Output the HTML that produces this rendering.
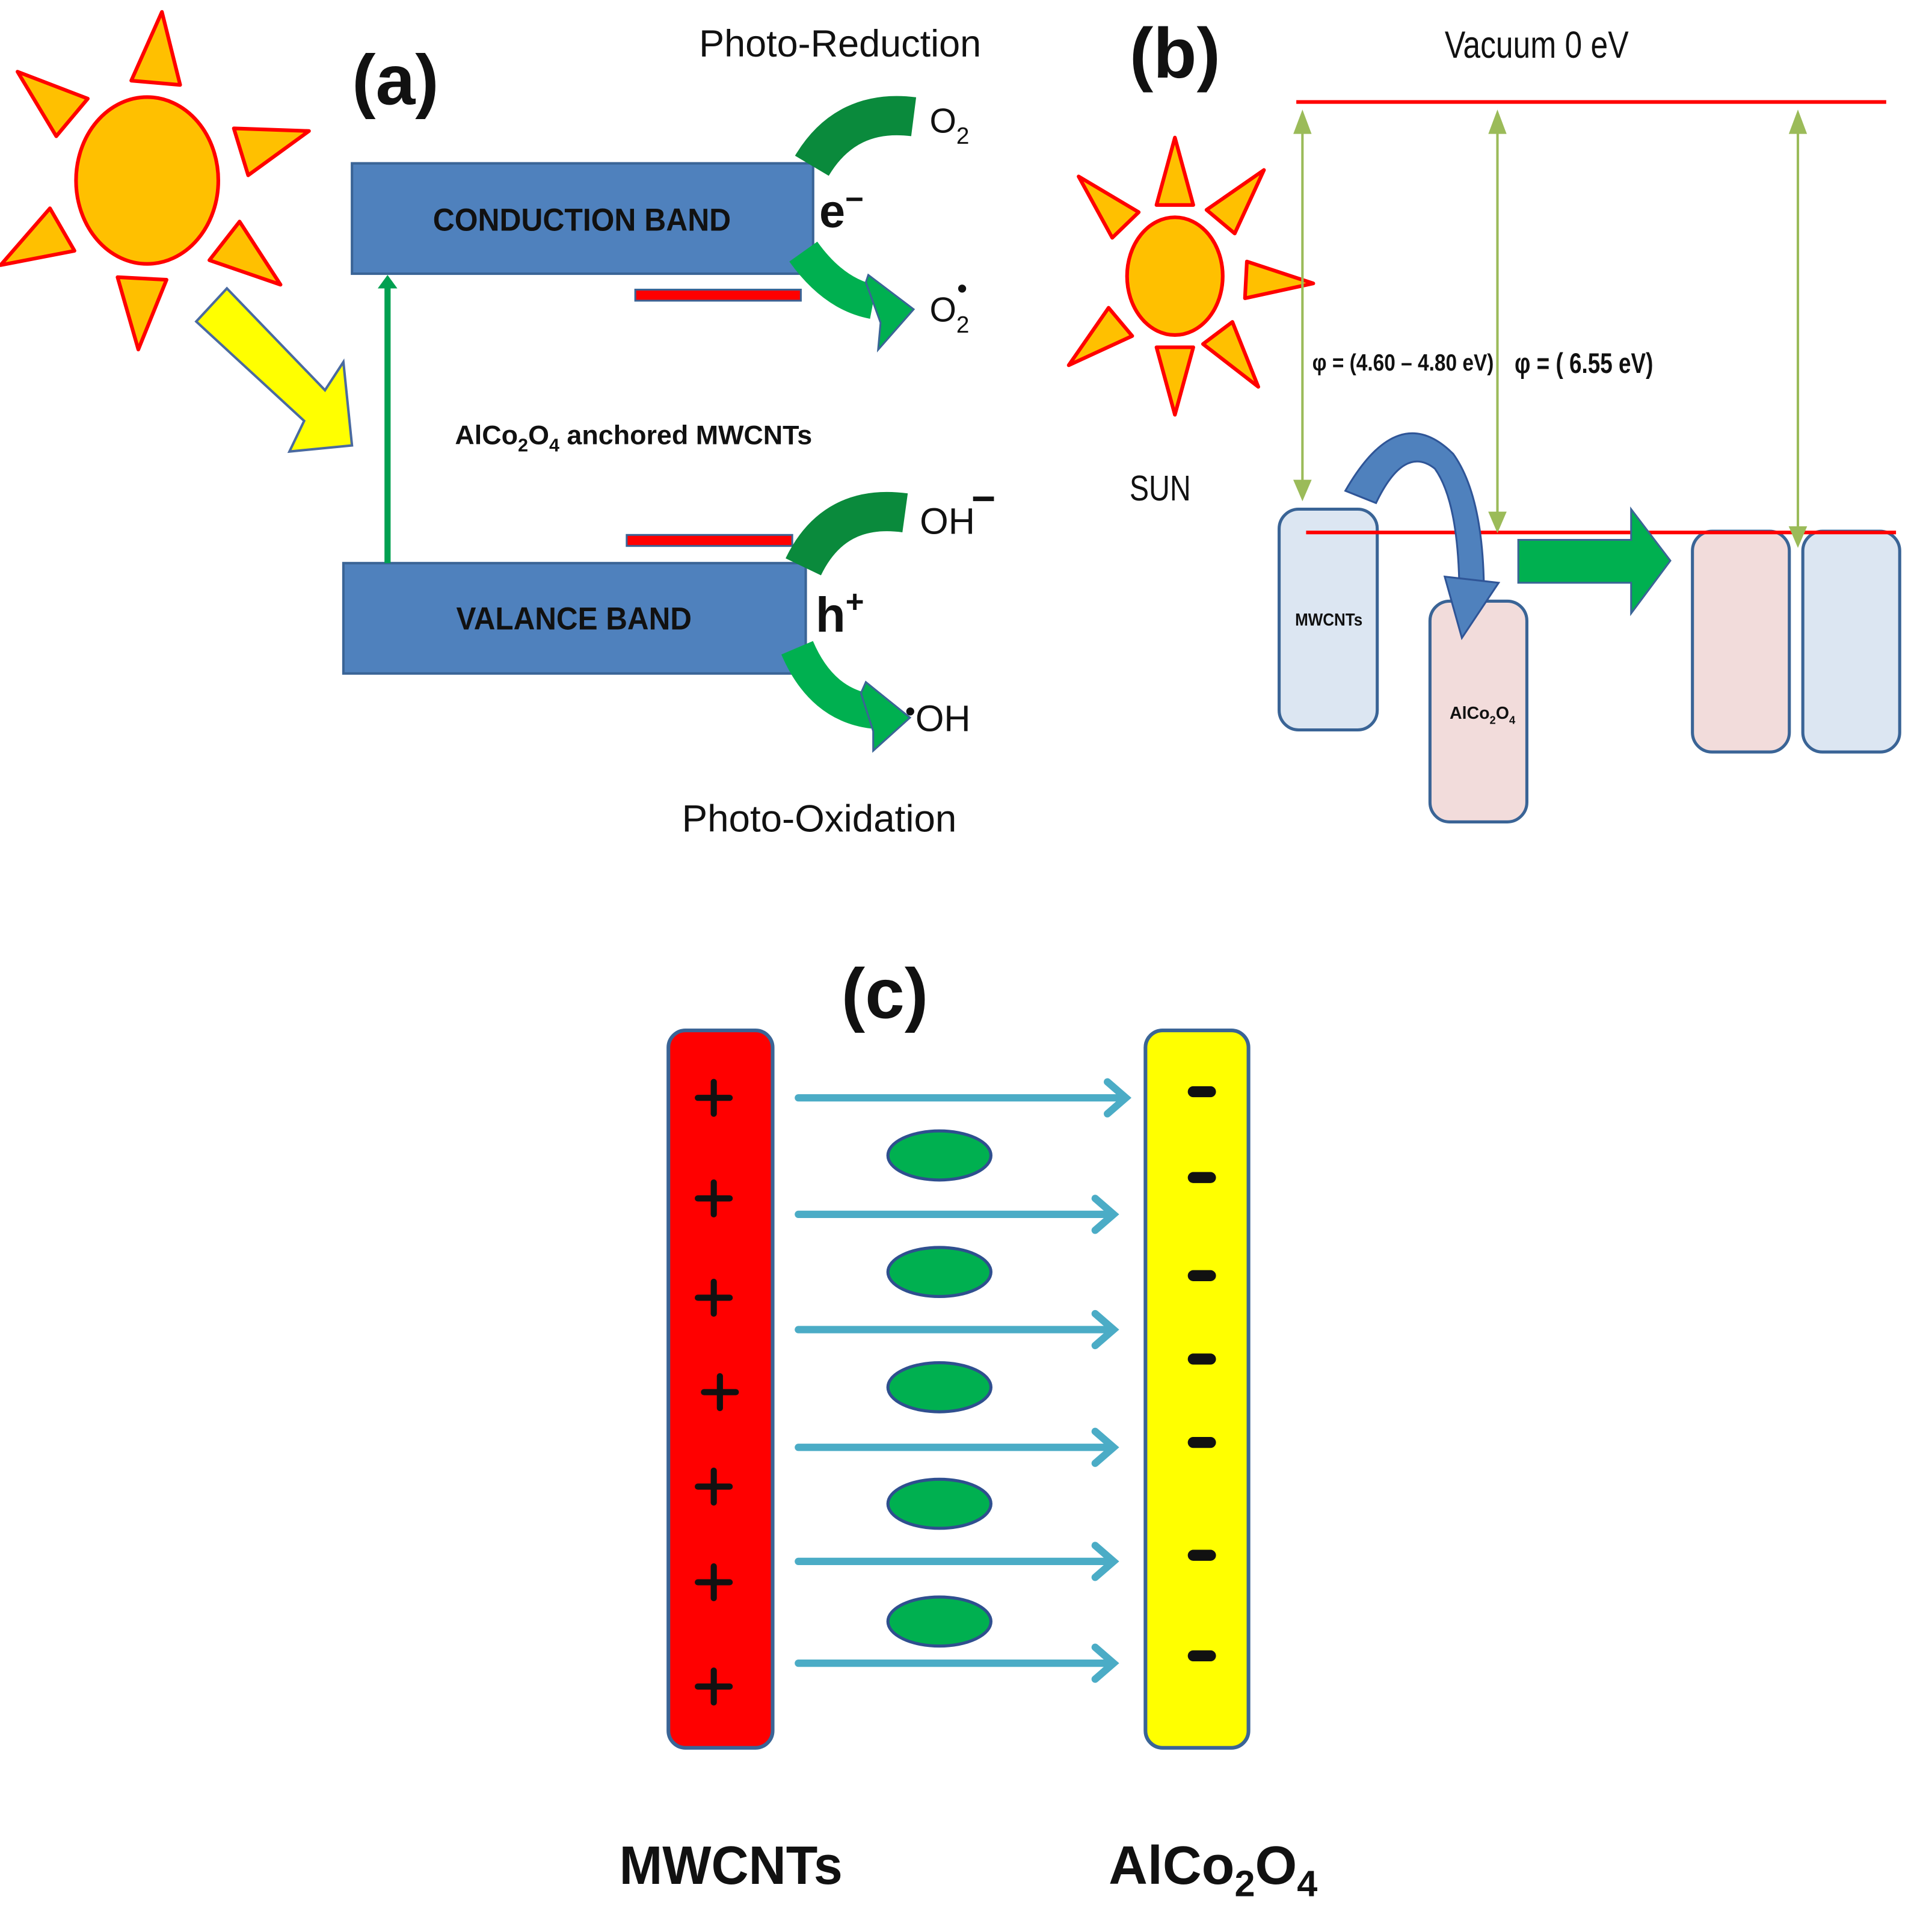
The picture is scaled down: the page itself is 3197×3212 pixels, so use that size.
<!DOCTYPE html>
<html><head><meta charset="utf-8"><style>html,body{margin:0;padding:0;background:#fff}svg{display:block}</style></head>
<body>
<svg width="3197" height="3212" viewBox="0 0 1568 1575" xmlns="http://www.w3.org/2000/svg" font-family="Liberation Sans, sans-serif">
<defs>
<g id="ray"><polygon points="-20,-80 20,-80 0,-138" fill="#ffc000" stroke="#ff0000" stroke-width="3" stroke-linejoin="round"/></g>
<g id="rayb"><polygon points="-15,-58 15,-58 0,-113" fill="#ffc000" stroke="#ff0000" stroke-width="3" stroke-linejoin="round"/></g>
</defs>
<rect width="1568" height="1575" fill="#fff"/>

<!-- Panel a sun -->
<g transform="translate(120,147)">
<use href="#ray" transform="rotate(5)"/><use href="#ray" transform="rotate(73)"/><use href="#ray" transform="rotate(128)"/>
<use href="#ray" transform="rotate(183)"/><use href="#ray" transform="rotate(240)"/><use href="#ray" transform="rotate(310)"/>
<ellipse cx="0" cy="0" rx="58" ry="68" fill="#ffc000" stroke="#ff0000" stroke-width="3"/>
</g>
<!-- yellow arrow -->
<polygon points="160,262 185,235 265,318 280,295 287,363 236,368 248,343" fill="#ffff00" stroke="#4a6aa0" stroke-width="2"/>

<text x="287" y="85" font-size="58" font-weight="bold" fill="#111">(a)</text>
<text x="570" y="46" font-size="31" fill="#111" textLength="230" lengthAdjust="spacingAndGlyphs">Photo-Reduction</text>

<rect x="287" y="133" width="376" height="90" fill="#4f81bd" stroke="#3a6496" stroke-width="2"/>
<text x="353" y="188" font-size="26" font-weight="bold" fill="#111" textLength="243" lengthAdjust="spacingAndGlyphs">CONDUCTION BAND</text>
<rect x="280" y="459" width="377" height="90" fill="#4f81bd" stroke="#3a6496" stroke-width="2"/>
<text x="372" y="513" font-size="26" font-weight="bold" fill="#111" textLength="192" lengthAdjust="spacingAndGlyphs">VALANCE BAND</text>

<line x1="316" y1="459" x2="316" y2="232" stroke="#00a050" stroke-width="5"/>
<polygon points="308,235 324,235 316,224" fill="#00a050"/>

<text x="371" y="362" font-size="22" font-weight="bold" fill="#111">AlCo<tspan font-size="15" dy="6">2</tspan><tspan dy="-6">O</tspan><tspan font-size="15" dy="6">4</tspan><tspan dy="-6"> anchored MWCNTs</tspan></text>

<!-- CB arrows -->
<path d="M662,135 Q690,88 745,95" fill="none" stroke="#0a8a3c" stroke-width="32"/>
<text x="668" y="185" font-size="38" font-weight="bold" fill="#111">e<tspan font-size="26" dy="-14">−</tspan></text>
<path d="M655,205 Q680,240 712,246" fill="none" stroke="#00b050" stroke-width="28"/>
<polygon points="708,224 745,252 716,285 718,263 706,230" fill="#00b050" stroke="#3a6496" stroke-width="1.5"/>
<text x="758" y="262" font-size="28" fill="#111">O<tspan font-size="19" dy="9">2</tspan><tspan font-size="24" dy="-28" dx="-10">•</tspan></text>
<text x="758" y="108" font-size="28" fill="#111">O<tspan font-size="19" dy="9">2</tspan></text>
<rect x="518" y="236" width="135" height="9" fill="#ff0000" stroke="#3a6496" stroke-width="1.5"/>
<rect x="511" y="436" width="135" height="9" fill="#ff0000" stroke="#3a6496" stroke-width="1.5"/>

<!-- VB arrows -->
<path d="M655,462 Q680,410 738,418" fill="none" stroke="#0a8a3c" stroke-width="32"/>
<text x="750" y="435" font-size="30" fill="#111">OH</text>
<text x="792" y="418" font-size="34" font-weight="bold" fill="#111">−</text>
<text x="665" y="515" font-size="40" font-weight="bold" fill="#111">h<tspan font-size="26" dy="-16">+</tspan></text>
<path d="M650,528 Q670,575 712,580" fill="none" stroke="#00b050" stroke-width="28"/>
<polygon points="706,556 742,585 712,612 712,596 702,565" fill="#00b050" stroke="#3a6496" stroke-width="1.5"/>
<text x="738" y="596" font-size="30" fill="#111"><tspan font-size="24" dy="-8">•</tspan><tspan dy="8">OH</tspan></text>
<text x="556" y="678" font-size="31" fill="#111" textLength="224" lengthAdjust="spacingAndGlyphs">Photo-Oxidation</text>

<!-- Panel b -->
<text x="921" y="63" font-size="58" font-weight="bold" fill="#111">(b)</text>
<text x="1178" y="47" font-size="31" fill="#111" textLength="150" lengthAdjust="spacingAndGlyphs">Vacuum 0 eV</text>
<line x1="1057" y1="83" x2="1538" y2="83" stroke="#ff0000" stroke-width="3"/>

<g transform="translate(958,225)">
<use href="#rayb" transform="rotate(0)"/><use href="#rayb" transform="rotate(40)"/><use href="#rayb" transform="rotate(93)"/><use href="#rayb" transform="rotate(143)"/>
<use href="#rayb" transform="rotate(180)"/><use href="#rayb" transform="rotate(230)"/><use href="#rayb" transform="rotate(316)"/>
<ellipse cx="0" cy="0" rx="39" ry="48" fill="#ffc000" stroke="#ff0000" stroke-width="3"/>
</g>
<text x="921" y="408" font-size="29" fill="#111" textLength="50" lengthAdjust="spacingAndGlyphs">SUN</text>

<rect x="1043" y="415" width="80" height="180" rx="16" fill="#dce6f2" stroke="#3a6496" stroke-width="2.5"/>
<text x="1056" y="510" font-size="14" font-weight="bold" fill="#111" textLength="55" lengthAdjust="spacingAndGlyphs">MWCNTs</text>
<rect x="1166" y="490" width="79" height="180" rx="16" fill="#f2dcdb" stroke="#3a6496" stroke-width="2.5"/>
<text x="1182" y="586" font-size="14" font-weight="bold" fill="#111">AlCo<tspan font-size="9" dy="4">2</tspan><tspan dy="-4">O</tspan><tspan font-size="9" dy="4">4</tspan></text>
<rect x="1380" y="433" width="79" height="180" rx="16" fill="#f2dcdb" stroke="#3a6496" stroke-width="2.5"/>
<rect x="1470" y="433" width="79" height="180" rx="16" fill="#dce6f2" stroke="#3a6496" stroke-width="2.5"/>
<line x1="1065" y1="434" x2="1546" y2="434" stroke="#ff0000" stroke-width="3"/>

<g stroke="#9bbb59" stroke-width="2" fill="#9bbb59">
<line x1="1062" y1="95" x2="1062" y2="402"/>
<polygon points="1056,108 1068,108 1062,92"/><polygon points="1056,392 1068,392 1062,406"/>
<line x1="1221" y1="95" x2="1221" y2="428"/>
<polygon points="1215,108 1227,108 1221,92"/><polygon points="1215,418 1227,418 1221,432"/>
<line x1="1466" y1="95" x2="1466" y2="440"/>
<polygon points="1460,108 1472,108 1466,92"/><polygon points="1460,430 1472,430 1466,444"/>
</g>
<text x="1070" y="302" font-size="19" font-weight="bold" fill="#111" textLength="148" lengthAdjust="spacingAndGlyphs">φ = (4.60 – 4.80 eV)</text>
<text x="1235" y="304" font-size="23" font-weight="bold" fill="#111" textLength="113" lengthAdjust="spacingAndGlyphs">φ = ( 6.55 eV)</text>

<path d="M1097,400 Q1140,325 1185,370 Q1210,405 1210,485 L1190,488 Q1190,410 1170,382 Q1145,362 1122,410 Z" fill="#4f81bd" stroke="#2f5597" stroke-width="1.5"/>
<polygon points="1178,470 1222,475 1192,520" fill="#4f81bd" stroke="#2f5597" stroke-width="1.5"/>
<polygon points="1238,440 1330,440 1330,415 1362,457 1330,500 1330,475 1238,475" fill="#00b050" stroke="#3a6496" stroke-width="1.5"/>

<!-- Panel c -->
<text x="686" y="830" font-size="58" font-weight="bold" fill="#111">(c)</text>
<rect x="545" y="840" width="85" height="585" rx="14" fill="#ff0000" stroke="#3a6496" stroke-width="3"/>
<rect x="934" y="840" width="84" height="585" rx="14" fill="#ffff00" stroke="#3a6496" stroke-width="3"/>
<g stroke="#111" stroke-width="5" stroke-linecap="round">
<path d="M582,882 v26 M569,895 h26"/>
<path d="M582,964 v26 M569,977 h26"/>
<path d="M582,1045 v26 M569,1058 h26"/>
<path d="M587,1122 v26 M574,1135 h26"/>
<path d="M582,1199 v26 M569,1212 h26"/>
<path d="M582,1277 v26 M569,1290 h26"/>
<path d="M582,1362 v26 M569,1375 h26"/>
</g>
<g stroke="#111" stroke-width="9" stroke-linecap="round">
<path d="M973,890 h14 M973,960 h14 M973,1040 h14 M973,1108 h14 M973,1176 h14 M973,1268 h14 M973,1350 h14"/>
</g>
<g stroke="#4bacc6" stroke-width="6" fill="none" stroke-linecap="round">
<path d="M651,895 H918 M903,882 L918,895 L903,908"/>
<path d="M651,990 H908 M893,977 L908,990 L893,1003"/>
<path d="M651,1084 H908 M893,1071 L908,1084 L893,1097"/>
<path d="M651,1180 H908 M893,1167 L908,1180 L893,1193"/>
<path d="M651,1273 H908 M893,1260 L908,1273 L893,1286"/>
<path d="M651,1356 H908 M893,1343 L908,1356 L893,1369"/>
</g>
<g fill="#00b050" stroke="#2f4f8f" stroke-width="2.5">
<ellipse cx="766" cy="942" rx="42" ry="20"/>
<ellipse cx="766" cy="1037" rx="42" ry="20"/>
<ellipse cx="766" cy="1131" rx="42" ry="20"/>
<ellipse cx="766" cy="1226" rx="42" ry="20"/>
<ellipse cx="766" cy="1322" rx="42" ry="20"/>
</g>
<text x="505" y="1536" font-size="44" font-weight="bold" fill="#111" textLength="182" lengthAdjust="spacingAndGlyphs">MWCNTs</text>
<text x="904" y="1536" font-size="44" font-weight="bold" fill="#111">AlCo<tspan font-size="30" dy="10">2</tspan><tspan dy="-10">O</tspan><tspan font-size="30" dy="10">4</tspan></text>
</svg>
</body></html>
